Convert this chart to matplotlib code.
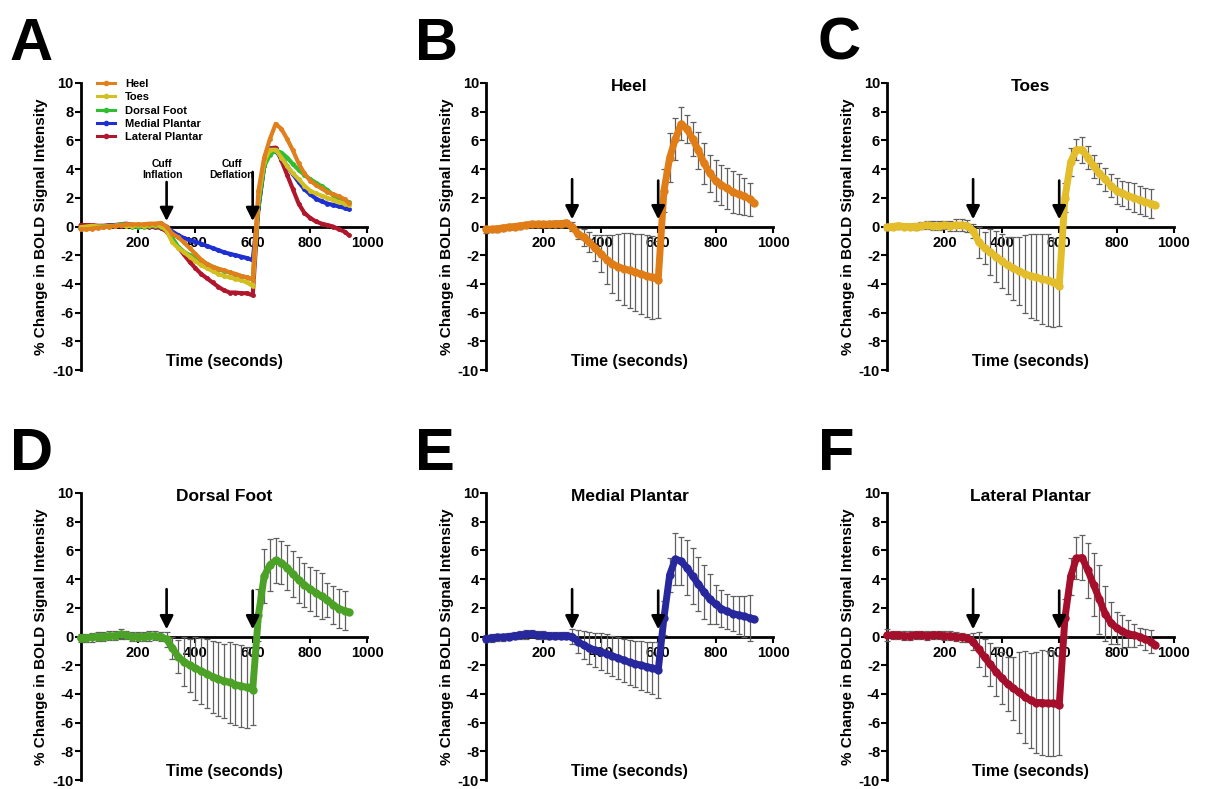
import matplotlib
matplotlib.use('Agg')
import matplotlib.pyplot as plt
from matplotlib.lines import Line2D

plt.rcParams['font.family'] = ['Liberation Sans', 'DejaVu Sans']
plt.rcParams['axes.unicode_minus'] = False

# ---------------- data ----------------
time_s = [0, 20, 40, 60, 80, 100, 120, 140, 160, 180, 200, 220, 240, 260, 280,
          300, 320, 340, 360, 380, 400, 420, 440, 460, 480, 500, 520, 540, 560, 580, 600,
          620, 640, 660, 680, 700, 720, 740, 760, 780, 800, 820, 840, 860, 880, 900, 920, 935]

heel_mean = [-0.2, -0.2, -0.15, -0.1, -0.05, 0.0, 0.05, 0.1, 0.15, 0.15, 0.15, 0.15, 0.2, 0.2, 0.25,
             0.0, -0.5, -0.75, -1.1, -1.5, -1.9, -2.3, -2.6, -2.8, -2.95, -3.05, -3.2, -3.3, -3.45, -3.55, -3.7,
             2.5, 4.8, 6.1, 7.15, 6.8, 6.1, 5.3, 4.4, 3.7, 3.2, 2.9, 2.65, 2.4, 2.25, 2.1, 1.9, 1.65]
heel_err = [0.25, 0.2, 0.2, 0.2, 0.2, 0.2, 0.2, 0.2, 0.2, 0.2, 0.2, 0.2, 0.2, 0.2, 0.2,
            0.3, 0.4, 0.6, 0.7, 0.9, 1.3, 1.7, 2.0, 2.3, 2.5, 2.6, 2.7, 2.8, 2.85, 2.9, 2.7,
            1.5, 1.7, 1.45, 1.15, 1.0, 1.2, 1.3, 1.45, 1.3, 1.4, 1.4, 1.45, 1.45, 1.4, 1.3, 1.15, 0.0]

toes_mean = [-0.05, 0.0, 0.05, 0.0, 0.0, 0.0, 0.05, 0.1, 0.05, 0.05, 0.1, 0.05, 0.1, 0.1, 0.05,
             -0.3, -1.1, -1.5, -1.8, -2.1, -2.4, -2.7, -2.9, -3.1, -3.3, -3.45, -3.55, -3.65, -3.75, -3.9, -4.15,
             2.0, 4.5, 5.35, 5.35, 4.8, 4.2, 3.7, 3.3, 2.85, 2.5, 2.3, 2.15, 2.0, 1.85, 1.7, 1.6, 1.5]
toes_err = [0.2, 0.2, 0.2, 0.2, 0.2, 0.25, 0.25, 0.3, 0.3, 0.3, 0.3, 0.35, 0.4, 0.4, 0.4,
            0.5, 1.1, 1.1, 1.6, 1.8, 1.9, 2.0, 2.2, 2.4, 2.7, 2.9, 3.0, 3.15, 3.2, 3.1, 2.8,
            1.0, 1.0, 0.75, 0.9, 0.8, 0.8, 0.75, 0.8, 0.8, 0.9, 0.9, 0.95, 1.0, 1.0, 1.0, 1.0, 0.0]

dorsal_mean = [-0.1, -0.1, -0.05, 0.0, 0.0, 0.05, 0.05, 0.15, 0.1, 0.0, 0.0, 0.0, 0.05, 0.05, 0.0,
               -0.2, -0.8, -1.4, -1.75, -2.0, -2.2, -2.4, -2.6, -2.8, -2.95, -3.1, -3.2, -3.35, -3.45, -3.55, -3.7,
               1.5, 4.2, 5.0, 5.3, 5.15, 4.8, 4.35, 3.95, 3.6, 3.3, 3.05, 2.8, 2.55, 2.2, 1.95, 1.8, 1.7]
dorsal_err = [0.3, 0.3, 0.3, 0.3, 0.3, 0.3, 0.3, 0.35, 0.3, 0.3, 0.3, 0.3, 0.35, 0.3, 0.3,
              0.5, 0.8, 1.15, 1.7, 1.85, 2.2, 2.3, 2.4, 2.5, 2.6, 2.6, 2.8, 2.85, 2.85, 2.85, 2.5,
              1.8, 1.9, 1.8, 1.55, 1.5, 1.55, 1.6, 1.6, 1.55, 1.55, 1.6, 1.6, 1.2, 1.3, 1.35, 1.35, 0.0]

medial_mean = [-0.15, -0.1, -0.05, -0.05, 0.0, 0.05, 0.1, 0.15, 0.2, 0.1, 0.1, 0.05, 0.05, 0.05, 0.05,
               0.0, -0.35, -0.6, -0.8, -0.95, -1.05, -1.2, -1.35, -1.5, -1.65, -1.8, -1.9, -2.0, -2.1, -2.2, -2.35,
               1.3, 4.3, 5.4, 5.25, 4.8, 4.2, 3.65, 3.1, 2.6, 2.25, 1.95, 1.75, 1.6, 1.5, 1.4, 1.3, 1.2]
medial_err = [0.25, 0.25, 0.25, 0.25, 0.25, 0.25, 0.25, 0.3, 0.25, 0.25, 0.25, 0.25, 0.25, 0.25, 0.25,
              0.5, 0.8, 1.0, 1.1, 1.2, 1.3, 1.35, 1.4, 1.45, 1.5, 1.55, 1.6, 1.7, 1.75, 1.8, 1.95,
              1.2, 1.2, 1.8, 1.65, 1.9, 1.95, 1.9, 1.9, 1.75, 1.35, 1.3, 1.2, 1.2, 1.3, 1.4, 1.6, 0.0]

lateral_mean = [0.1, 0.1, 0.1, 0.05, 0.05, 0.1, 0.1, 0.05, 0.1, 0.1, 0.05, 0.05, 0.0, -0.05, -0.1,
                -0.35, -0.9, -1.45, -1.95, -2.45, -2.9, -3.3, -3.6, -3.9, -4.2, -4.45, -4.6, -4.6, -4.65, -4.65, -4.8,
                1.3, 4.2, 5.45, 5.5, 4.6, 3.6, 2.6, 1.6, 0.95, 0.6, 0.35, 0.2, 0.1, 0.0, -0.2, -0.35, -0.6]
lateral_err = [0.4, 0.3, 0.3, 0.3, 0.3, 0.3, 0.3, 0.3, 0.3, 0.3, 0.3, 0.3, 0.3, 0.3, 0.3,
               0.6, 1.2, 1.3, 1.5, 1.7, 1.8, 1.9, 2.2, 2.8, 3.2, 3.3, 3.5, 3.65, 3.65, 3.65, 3.45,
               1.3, 1.3, 1.45, 1.55, 1.9, 2.2, 2.4, 1.9, 1.45, 1.1, 1.15, 0.95, 0.8, 0.6, 0.75, 0.8, 0.0]

region_names = ['Heel', 'Toes', 'Dorsal Foot', 'Medial Plantar', 'Lateral Plantar']
region_means = [heel_mean, toes_mean, dorsal_mean, medial_mean, lateral_mean]
region_errs = [heel_err, toes_err, dorsal_err, medial_err, lateral_err]
panel_colors = ['#E07D17', '#E3BD2A', '#4CA226', '#28289E', '#A50F2B']
overview_colors = ['#E07F1C', '#D2BF22', '#2FBE30', '#1E30D2', '#B0172C']
panel_letters = ['A', 'B', 'C', 'D', 'E', 'F']

x_ticks = [200, 400, 600, 800, 1000]
y_ticks = [-10, -8, -6, -4, -2, 0, 2, 4, 6, 8, 10]
cuff_times = [300, 600]

# ---------------- layout ----------------
W, H = 1206, 789
fig = plt.figure(figsize=(W / 100, H / 100), dpi=100)

col_left = [80.5, 486, 887]
row_top = [83, 493]
ax_w, ax_h = 287, 287


def make_axes(r, c):
    left = col_left[c] / W
    bottom = (H - (row_top[r] + ax_h)) / H
    return fig.add_axes([left, bottom, ax_w / W, ax_h / H])


def style_axes(ax):
    ax.set_xlim(0, 1000)
    ax.set_ylim(-10, 10)
    ax.patch.set_alpha(0)
    ax.spines['top'].set_visible(False)
    ax.spines['right'].set_visible(False)
    ax.spines['bottom'].set_position(('data', 0))
    ax.spines['left'].set_linewidth(2)
    ax.spines['bottom'].set_linewidth(2)
    ax.set_xticks(x_ticks)
    ax.set_yticks(y_ticks)
    ax.tick_params(axis='both', width=1.5, length=4, labelsize=10.5)
    ax.tick_params(axis='y', pad=1)
    ax.tick_params(axis='x', pad=3)
    for lab in ax.get_xticklabels() + ax.get_yticklabels():
        lab.set_fontweight('bold')
    ax.set_ylabel('% Change in BOLD Signal Intensity', fontsize=11,
                  fontweight='bold', labelpad=3)
    ax.text(0.5, 0.028, 'Time (seconds)', transform=ax.transAxes,
            ha='center', va='center', fontsize=11.5, fontweight='bold')


def add_arrow(ax, x, y_top, y_tip):
    ax.annotate('', xy=(x, y_tip), xytext=(x, y_top),
                arrowprops=dict(arrowstyle='-|>', color='black', lw=1.9,
                                mutation_scale=20, shrinkA=0, shrinkB=0),
                zorder=5)


# ---- Panel A (overview) ----
axA = make_axes(0, 0)
style_axes(axA)
for name, mean, col in reversed(list(zip(region_names, region_means, overview_colors))):
    axA.plot(time_s, mean, color=col, lw=3.0, marker='o', ms=2.5, zorder=3,
             clip_on=False, solid_capstyle='round', solid_joinstyle='round')
handles = [Line2D([], [], color=col, lw=2.2, marker='o', ms=3, label=name)
           for name, col in zip(region_names, overview_colors)]
axA.legend(handles=handles, loc='upper left', bbox_to_anchor=(0.0575, 1.014),
           frameon=False, borderpad=0, borderaxespad=0, labelspacing=0.3,
           handlelength=1.6, handletextpad=0.9,
           prop={'size': 8, 'weight': 'bold'})
add_arrow(axA, cuff_times[0], 3.1, 0.38)
add_arrow(axA, cuff_times[1], 3.8, 0.38)
axA.text(285, 3.25, 'Cuff\nInflation', ha='center', va='bottom', fontsize=7.5,
         fontweight='bold', linespacing=1.1)
axA.text(527, 3.25, 'Cuff\nDeflation', ha='center', va='bottom', fontsize=7.5,
         fontweight='bold', linespacing=1.1)

# ---- Panels B-F ----
positions = [(0, 1), (0, 2), (1, 0), (1, 1), (1, 2)]
for (r, c), name, mean, err, col in zip(positions, region_names, region_means,
                                        region_errs, panel_colors):
    ax = make_axes(r, c)
    style_axes(ax)
    ax.errorbar(time_s[:-1], mean[:-1], yerr=err[:-1], fmt='none',
                ecolor='#606060', elinewidth=0.9, capsize=2.2, capthick=0.9,
                zorder=2.6, clip_on=False)
    ax.plot(time_s, mean, color=col, lw=5.0, marker='o', ms=5, zorder=3,
            clip_on=False, solid_capstyle='round', solid_joinstyle='round')
    ax.text(0.5, 0.987, name, transform=ax.transAxes, ha='center', va='center',
            fontsize=12.5, fontweight='bold')
    add_arrow(ax, cuff_times[0], 3.3, 0.5)
    add_arrow(ax, cuff_times[1], 3.2, 0.5)

# ---- panel letters ----
letter_pos = [(10, 60), (415, 60), (818, 60), (10, 470), (415, 470), (818, 470)]
for letter, (px, py) in zip(panel_letters, letter_pos):
    fig.text(px / W, (H - py) / H, letter, fontsize=43, fontweight='bold',
             ha='left', va='baseline')

fig.savefig('out.png', dpi=100)
